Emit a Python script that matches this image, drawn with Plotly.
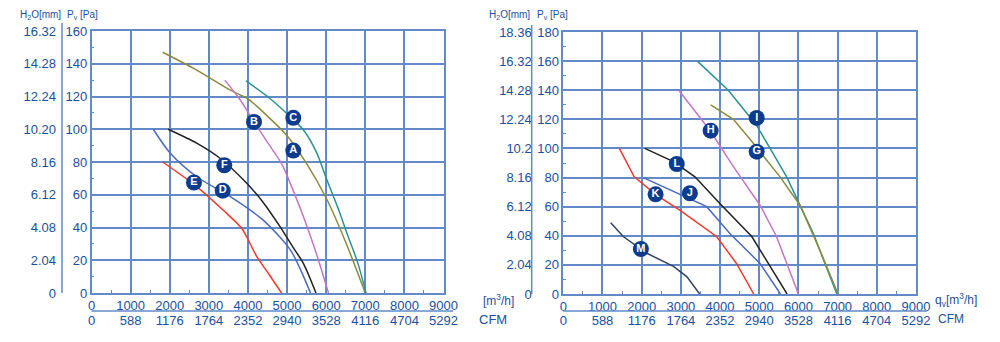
import plotly.graph_objects as go

# ---------------- data ----------------
flow_ticks = [0, 1000, 2000, 3000, 4000, 5000, 6000, 7000, 8000, 9000]
cfm_labels = ["0", "588", "1176", "1764", "2352", "2940", "3528", "4116", "4704", "5292"]

pa_ticks_left = [0, 20, 40, 60, 80, 100, 120, 140, 160]
h2o_left = ["0", "2.04", "4.08", "6.12", "8.16", "10.20", "12.24", "14.28", "16.32"]
pa_ticks_right = [0, 20, 40, 60, 80, 100, 120, 140, 160, 180]
h2o_right = ["0", "2.04", "4.08", "6.12", "8.16", "10.2", "12.24", "14.28", "16.32", "18.36"]

# left chart curves (flow m3/h, pressure Pa)
A_x = [1820, 2700, 3540, 4000, 4500, 5000, 5500, 6000, 6500, 7000]
A_y = [147, 136, 124, 118.5, 108, 96, 79, 58, 31, 0]
B_x = [3410, 3800, 4130, 4500, 4860, 5150, 5420, 5750, 6060]
B_y = [130, 118, 105.5, 92, 79, 63, 46.5, 24, 0]
C_x = [3950, 4500, 5000, 5420, 5750, 6020, 6300, 6530, 6800, 7020]
C_y = [129.5, 120, 109.5, 99.5, 86, 69, 52, 36.5, 19, 0]
F_x = [1960, 2690, 3300, 3970, 4400, 4820, 5150, 5420, 5740]
F_y = [100, 91.5, 82, 67, 55, 40.5, 28, 18, 0]
D_x = [1580, 2010, 2690, 3540, 4390, 5080, 5350, 5600]
D_y = [100, 85.5, 71, 59, 44.5, 26.5, 14, 0]
E_x = [1820, 2690, 3370, 3840, 4220, 4550, 4860]
E_y = [80, 65, 50.5, 39.5, 22.5, 11, 0]

# right chart curves
I_x = [3420, 4210, 4930, 5700, 6380, 6980]
I_y = [160, 140, 116, 80.5, 41.5, 0]
G_x = [3760, 4340, 4850, 5530, 6040, 6550, 7010]
G_y = [130, 120, 103.5, 80.5, 61, 30, 0]
H_x = [2960, 3740, 4340, 5020, 5440, 6000]
H_y = [139.5, 112.5, 87.5, 61, 39.5, 0]
L_x = [2080, 2810, 3360, 4000, 4810, 5710]
L_y = [100, 91, 80.5, 62, 39.5, 0]
J_x = [2040, 3660, 4250, 5020, 5540]
J_y = [80, 60, 41.5, 21, 0]
K_x = [1430, 1810, 2380, 2980, 3910, 4420, 4860]
K_y = [100, 80.5, 68, 57.5, 39.5, 21, 0]
M_x = [1210, 1530, 2130, 2810, 3150, 3480]
M_y = [49, 39.5, 28, 19, 12, 0]

left_labels = ["A", "B", "C", "D", "E", "F"]
left_lab_x = [5160, 4155, 5160, 3355, 2620, 3395]
left_lab_y = [87, 104.5, 107, 62.5, 67.5, 78]
right_labels = ["G", "H", "I", "J", "K", "L", "M"]
right_lab_x = [4935, 3760, 4935, 3230, 2355, 2895, 1980]
right_lab_y = [97.8, 112.2, 121, 69.2, 68.5, 89.3, 30.9]

# ---------------- styles ----------------
BLUE_TXT = "#1b4f9e"
GRID = "#628ac8"
COL = {"A": "#8c8a3e", "B": "#c475c8", "C": "#2b9291", "D": "#4a6ac0",
       "E": "#ee3a2c", "F": "#222222", "G": "#8c8a3e", "H": "#c475c8",
       "I": "#2b9291", "J": "#4a6ac0", "K": "#ee3a2c", "L": "#222222", "M": "#34405f"}
FONT = "Liberation Sans, Arial, sans-serif"
W, H = 1000, 342

fig = go.Figure()

def add_curve(x, y, key, xa, ya, shape):
    fig.add_trace(go.Scatter(x=x, y=y, mode="lines", xaxis=xa, yaxis=ya,
                             line=dict(color=COL[key], width=1.5, shape=shape, smoothing=0.8),
                             hoverinfo="skip", showlegend=False))

for xs, ys, k in [(A_x, A_y, "A"), (B_x, B_y, "B"), (C_x, C_y, "C"),
                  (F_x, F_y, "F"), (D_x, D_y, "D"), (E_x, E_y, "E")]:
    add_curve(xs, ys, k, "x", "y", "spline")
for xs, ys, k in [(I_x, I_y, "I"), (G_x, G_y, "G"), (H_x, H_y, "H"),
                  (L_x, L_y, "L"), (J_x, J_y, "J"), (K_x, K_y, "K"), (M_x, M_y, "M")]:
    add_curve(xs, ys, k, "x2", "y2", "linear")

def add_labels(xs, ys, txt, xa, ya):
    fig.add_trace(go.Scatter(x=xs, y=ys, text=["<b>%s</b>" % t for t in txt],
                             mode="markers+text", xaxis=xa, yaxis=ya,
                             marker=dict(size=16, color="#0d3b8e", line=dict(width=0)),
                             textposition="middle center",
                             textfont=dict(color="white", size=11, family=FONT),
                             hoverinfo="skip", showlegend=False))

add_labels(left_lab_x, left_lab_y, left_labels, "x", "y")
add_labels(right_lab_x, right_lab_y, right_labels, "x2", "y2")

# dummy traces for overlay axes
fig.add_trace(go.Scatter(x=[None], y=[None], xaxis="x3", yaxis="y3", showlegend=False, hoverinfo="skip"))
fig.add_trace(go.Scatter(x=[None], y=[None], xaxis="x4", yaxis="y4", showlegend=False, hoverinfo="skip"))

tickfont = dict(family=FONT, size=13, color=BLUE_TXT)

def px_x(p):
    return p / W

def px_y(p):
    return 1 - p / H

common_x = dict(range=[0, 9000], tickvals=flow_ticks, ticktext=[str(v) for v in flow_ticks],
                showgrid=True, gridcolor=GRID, gridwidth=1.5, showline=True, linecolor=GRID,
                linewidth=1.5, mirror=True, zeroline=False, ticks="", tickfont=tickfont,
                minor=dict(tickvals=[v + 500 for v in flow_ticks[:-1]], ticks="inside",
                           ticklen=3, tickcolor=GRID, showgrid=False),
                fixedrange=True, automargin=False)

fig.update_layout(
    width=W, height=H, margin=dict(l=0, r=0, t=0, b=0, pad=0, autoexpand=False),
    paper_bgcolor="white", plot_bgcolor="white", showlegend=False,
    xaxis=dict(domain=[px_x(91.5), px_x(443.5)], anchor="y", **common_x),
    yaxis=dict(domain=[px_y(293), px_y(31)], anchor="x", range=[0, 160],
               tickvals=pa_ticks_left, showgrid=True, gridcolor=GRID, gridwidth=1.5,
               showline=True, linecolor=GRID, linewidth=1.5, mirror=True, zeroline=False,
               ticks="", tickfont=tickfont,
               minor=dict(tickvals=[v + 10 for v in pa_ticks_left[:-1]], ticks="inside",
                          ticklen=3, tickcolor=GRID, showgrid=False),
               fixedrange=True, automargin=False),
    xaxis2=dict(domain=[px_x(563.3), px_x(916)], anchor="y2", **common_x),
    yaxis2=dict(domain=[px_y(294), px_y(32)], anchor="x2", range=[0, 180],
                tickvals=pa_ticks_right, showgrid=True, gridcolor=GRID, gridwidth=1.5,
                showline=True, linecolor=GRID, linewidth=1.5, mirror=True, zeroline=False,
                ticks="", tickfont=tickfont,
                minor=dict(tickvals=[v + 10 for v in pa_ticks_right[:-1]], ticks="inside",
                           ticklen=3, tickcolor=GRID, showgrid=False),
                fixedrange=True, automargin=False),
    xaxis3=dict(overlaying="x", anchor="free", position=px_y(311), side="bottom",
                range=[0, 9000], tickvals=flow_ticks, ticktext=cfm_labels,
                showgrid=False, showline=False, ticks="",
                zeroline=False, tickfont=tickfont, ticklabelstandoff=0, fixedrange=True,
                automargin=False),
    yaxis3=dict(overlaying="y", anchor="free", position=px_x(62), side="left",
                range=[0, 160], tickvals=pa_ticks_left, ticktext=h2o_left,
                showgrid=False, showline=False, ticks="",
                zeroline=False, tickfont=tickfont, ticklabelstandoff=6, fixedrange=True,
                automargin=False),
    xaxis4=dict(overlaying="x2", anchor="free", position=px_y(311), side="bottom",
                range=[0, 9000], tickvals=flow_ticks, ticktext=cfm_labels,
                showgrid=False, showline=False, ticks="",
                zeroline=False, tickfont=tickfont, ticklabelstandoff=0, fixedrange=True,
                automargin=False),
    yaxis4=dict(overlaying="y2", anchor="free", position=px_x(531.7), side="left",
                range=[0, 180], tickvals=pa_ticks_right, ticktext=h2o_right,
                showgrid=False, showline=False, ticks="",
                zeroline=False, tickfont=tickfont, ticklabelstandoff=0, fixedrange=True,
                automargin=False),
)

# separator lines of the secondary scales
for x0, y0, x1, y1 in [(62, 23, 62, 293), (531.7, 25, 531.7, 294),
                       (91.5, 311, 453, 311), (563.3, 311, 927, 311)]:
    fig.add_shape(type="line", xref="paper", yref="paper",
                  x0=px_x(x0), y0=px_y(y0), x1=px_x(x1), y1=px_y(y1),
                  line=dict(color=GRID, width=1.5))

small = dict(family=FONT, size=10, color=BLUE_TXT)
ann = [
    (18, 15, "H<sub>2</sub>O[mm]", small, "left"),
    (65, 15, "P<sub>v</sub> [Pa]", small, "left"),
    (487, 15, "H<sub>2</sub>O[mm]", small, "left"),
    (535, 15, "P<sub>v</sub> [Pa]", small, "left"),
    (481, 300, "[m<sup>3</sup>/h]", dict(family=FONT, size=12, color=BLUE_TXT), "left"),
    (477, 319, "CFM", dict(family=FONT, size=13, color=BLUE_TXT), "left"),
    (933, 300, "q<sub>v</sub>[m<sup>3</sup>/h]", dict(family=FONT, size=12, color=BLUE_TXT), "left"),
    (936, 319, "CFM", dict(family=FONT, size=12, color=BLUE_TXT), "left"),
]
for x, y, t, f, al in ann:
    fig.add_annotation(x=px_x(x), y=px_y(y), xref="paper", yref="paper", text=t,
                       showarrow=False, font=f, xanchor=al, yanchor="middle")

fig.write_html("out.html")
